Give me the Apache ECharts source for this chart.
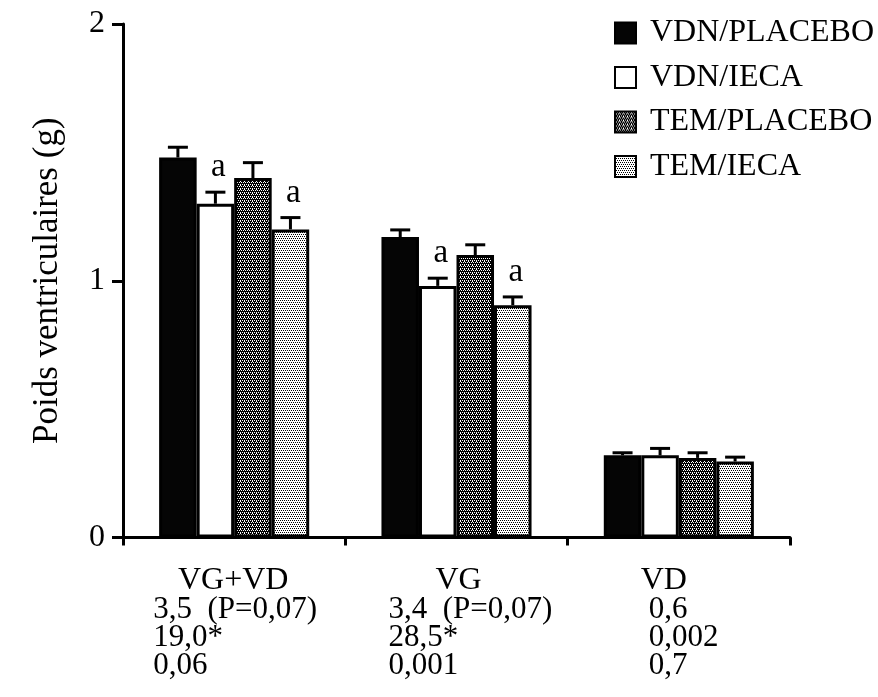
<!DOCTYPE html>
<html>
<head>
<meta charset="utf-8">
<script src="https://cdn.jsdelivr.net/npm/echarts@6/dist/echarts.min.js"></script>
<style>
html,body{margin:0;padding:0;background:#fff;}
#c{width:878px;height:697px;}
</style>
</head>
<body>
<div id="c"></div>
<script>
// ---- data ----
var categories = ['VG+VD', 'VG', 'VD'];
var seriesNames = ['VDN/PLACEBO', 'VDN/IECA', 'TEM/PLACEBO', 'TEM/IECA'];
var vdnPlacebo = [1.48, 1.17, 0.32];
var vdnIeca = [1.30, 0.98, 0.32];
var temPlacebo = [1.40, 1.10, 0.31];
var temIeca = [1.20, 0.905, 0.296];
var vdnPlaceboErr = [0.04, 0.028, 0.01];
var vdnIecaErr = [0.045, 0.03, 0.027];
var temPlaceboErr = [0.06, 0.04, 0.02];
var temIecaErr = [0.046, 0.032, 0.017];
var vdnIecaSig = ['a', 'a', ''];
var temIecaSig = ['a', 'a', ''];
var noSig = ['', '', ''];
var yTicks = [0, 1, 2];
var yTitle = 'Poids ventriculaires (g)';
var statLines = [
  ['3,5  (P=0,07)', '19,0*', '0,06'],
  ['3,4  (P=0,07)', '28,5*', '0,001'],
  ['0,6', '0,002', '0,7']
];

// ---- styles ----
var FONT = '"Liberation Serif", "Times New Roman", serif';
function makePattern(n, on, bg, fg) {
  var cv = document.createElement('canvas');
  cv.width = n; cv.height = n;
  var ctx = cv.getContext('2d');
  ctx.fillStyle = bg; ctx.fillRect(0, 0, n, n);
  ctx.fillStyle = fg;
  on.forEach(function (p) { ctx.fillRect(p[0], p[1], 1, 1); });
  return { image: cv, repeat: 'repeat' };
}
var fills = [
  '#050505',
  '#ffffff',
  makePattern(4, [[0,0],[2,0],[1,2],[3,2],[0,1]], '#000000', '#ffffff'),
  makePattern(4, [[0,0],[2,0],[1,2],[3,2]], '#ffffff', '#000000')
];
var values = [vdnPlacebo, vdnIeca, temPlacebo, temIeca];
var errs = [vdnPlaceboErr, vdnIecaErr, temPlaceboErr, temIecaErr];
var sigs = [noSig, vdnIecaSig, noSig, temIecaSig];
var CAT_GAP = 0.325;

var chart = echarts.init(document.getElementById('c'), null, { renderer: 'canvas' });

var series = [];
seriesNames.forEach(function (name, k) {
  series.push({
    name: name,
    type: 'bar',
    data: values[k],
    barGap: '0%',
    barCategoryGap: (CAT_GAP * 100) + '%',
    itemStyle: { color: fills[k], borderColor: '#000', borderWidth: 3 },
    emphasis: { disabled: true },
    z: 2
  });
});
seriesNames.forEach(function (name, k) {
  series.push({
    type: 'custom',
    coordinateSystem: 'cartesian2d',
    silent: true,
    z: 3,
    encode: { x: 0, y: 1 },
    data: categories.map(function (c, i) { return [i, values[k][i], errs[k][i]]; }),
    renderItem: (function (k) {
      return function (params, api) {
        var ci = api.value(0);
        var v = api.value(1);
        var e = api.value(2);
        var sig = sigs[k][params.dataIndex];
        var top = api.coord([ci, v + e]);
        var base = api.coord([ci, v]);
        var band = api.size([1, 0])[0];
        var bw = band * (1 - CAT_GAP) / 4;
        var x = top[0] + (k - 1.5) * bw;
        var children = [
          { type: 'line', shape: { x1: x, y1: base[1], x2: x, y2: top[1] }, style: { stroke: '#000', lineWidth: 3 } },
          { type: 'line', shape: { x1: x - 10, y1: top[1], x2: x + 10, y2: top[1] }, style: { stroke: '#000', lineWidth: 3 } }
        ];
        if (sig) {
          children.push({ type: 'text', x: x + 3, y: top[1] - 8,
            style: { text: sig, fill: '#000', font: '33px ' + FONT, textAlign: 'center', textVerticalAlign: 'bottom' } });
        }
        return { type: 'group', children: children };
      };
    })(k)
  });
});

var option = {
  backgroundColor: '#fff',
  animation: false,
  textStyle: { fontFamily: FONT, color: '#000' },
  grid: { left: 123, right: 88, top: 24, bottom: 159.5 },
  legend: {
    data: seriesNames,
    orient: 'vertical',
    left: 609,
    top: 12,
    itemWidth: 21,
    itemHeight: 21,
    itemGap: 12.5,
    icon: 'rect',
    selectedMode: false,
    textStyle: { fontFamily: FONT, fontSize: 32, color: '#000', lineHeight: 31, padding: [0, 0, 0, 9] }
  },
  xAxis: {
    type: 'category',
    data: categories,
    boundaryGap: true,
    axisLine: { lineStyle: { color: '#000', width: 3 } },
    axisTick: { show: true, length: 8, lineStyle: { color: '#000', width: 3 } },
    axisLabel: { show: false },
    splitLine: { show: false }
  },
  yAxis: {
    type: 'value',
    min: yTicks[0],
    max: yTicks[yTicks.length - 1],
    interval: 1,
    name: yTitle,
    nameLocation: 'middle',
    nameGap: 58,
    nameTextStyle: { fontFamily: FONT, fontSize: 35, color: '#000' },
    axisLine: { show: true, lineStyle: { color: '#000', width: 3 } },
    axisTick: { show: true, length: 11, lineStyle: { color: '#000', width: 3 } },
    axisLabel: { fontFamily: FONT, fontSize: 32, color: '#000', margin: 18 },
    splitLine: { show: false }
  },
  series: series
};
chart.setOption(option);

// category names and statistics under the axis
var nameOffsets = [-1, 2, -15];
var statOffsets = [-81, -68, -30];
var graphics = [];
categories.forEach(function (c, i) {
  var cx = chart.convertToPixel({ xAxisIndex: 0 }, c);
  graphics.push({ type: 'text', x: cx + nameOffsets[i], y: 581,
    style: { text: c, font: '32px ' + FONT, fill: '#000', textAlign: 'center', textVerticalAlign: 'middle' } });
  statLines[i].forEach(function (t, j) {
    graphics.push({ type: 'text', x: cx + statOffsets[i], y: 610 + j * 28,
      style: { text: t, font: '31px ' + FONT, fill: '#000', textAlign: 'left', textVerticalAlign: 'middle' } });
  });
});
chart.setOption({ graphic: graphics });
</script>
</body>
</html>
